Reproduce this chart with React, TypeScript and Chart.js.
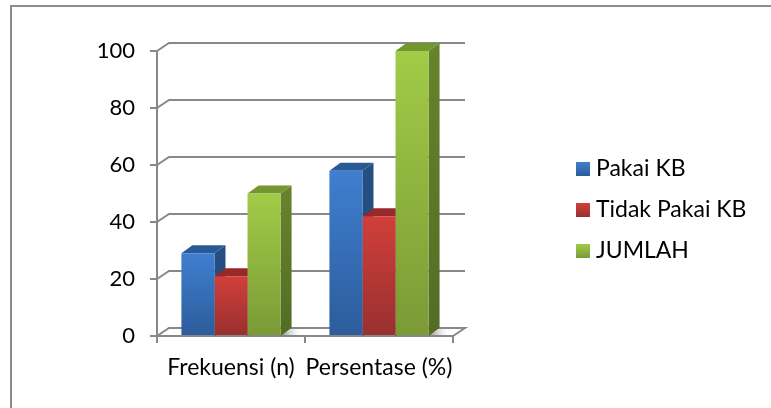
import React, { useEffect, useRef } from "react";
import { Chart, registerables } from "chart.js";

Chart.register(...registerables);

const categories = ["Frekuensi (n)", "Persentase (%)"];
const seriesNames = ["Pakai KB", "Tidak Pakai KB", "JUMLAH"];
const pakaiKb = [29, 58];
const tidakPakaiKb = [21, 42];
const jumlah = [50, 100];
const yTicks = [0, 20, 40, 60, 80, 100];

const FONT = "Lato";
const GRID = "#888888";
const GRID_WIDTH = 2;
const WALL_X = 12;
const DEPTH_X = 11;
const DEPTH_Y = 8;

const palette = [
  { top: "#3f7fd0", bottom: "#2c5c9b", roof: "#2a5a96", side: "#254e82", sideLow: "#234a7c" },
  { top: "#d13f3a", bottom: "#983030", roof: "#962a2a", side: "#7e2424", sideLow: "#7e2424" },
  { top: "#a2cb47", bottom: "#7a9a36", roof: "#74962f", side: "#66832c", sideLow: "#536c25" },
];

// Side and top faces of the columns, plus the wall and floor lines behind them.
const depthPlugin = {
  id: "depth",
  beforeDatasetsDraw(chart: any) {
    const { ctx, scales } = chart;
    const x = scales.x;
    const y = scales.y;
    const base = y.getPixelForValue(0);
    ctx.save();
    ctx.strokeStyle = GRID;
    ctx.lineWidth = GRID_WIDTH;
    for (const v of yTicks) {
      const py = y.getPixelForValue(v);
      ctx.beginPath();
      ctx.moveTo(x.left, py);
      ctx.lineTo(x.left + WALL_X, py - DEPTH_Y);
      ctx.lineTo(x.right + WALL_X, py - DEPTH_Y);
      if (v === 0) ctx.lineTo(x.right, py);
      ctx.stroke();
    }
    // Soft floor shadow to the right of the last column in each group
    const lastMeta = chart.getDatasetMeta(chart.data.datasets.length - 1);
    lastMeta.data.forEach((bar: any) => {
      const r = bar.x + bar.width / 2;
      const shade = ctx.createLinearGradient(r, 0, r + 22, 0);
      shade.addColorStop(0, "rgba(90,90,90,0.75)");
      shade.addColorStop(1, "rgba(255,255,255,0)");
      ctx.fillStyle = shade;
      ctx.beginPath();
      ctx.moveTo(r, base - 1);
      ctx.lineTo(r + DEPTH_X, base - DEPTH_Y + 1);
      ctx.lineTo(r + 26, base - DEPTH_Y + 1);
      ctx.lineTo(r + 18, base - 1);
      ctx.closePath();
      ctx.fill();
    });
    chart.data.datasets.forEach((_: any, di: number) => {
      const p = palette[di];
      chart.getDatasetMeta(di).data.forEach((bar: any) => {
        const l = bar.x - bar.width / 2;
        const r = bar.x + bar.width / 2;
        const t = bar.y;
        const side = ctx.createLinearGradient(0, t, 0, base);
        side.addColorStop(0, p.side);
        side.addColorStop(1, p.sideLow);
        ctx.fillStyle = side;
        ctx.beginPath();
        ctx.moveTo(r, t);
        ctx.lineTo(r + DEPTH_X, t - DEPTH_Y);
        ctx.lineTo(r + DEPTH_X, base - DEPTH_Y);
        ctx.lineTo(r, base);
        ctx.closePath();
        ctx.fill();
        ctx.fillStyle = p.roof;
        ctx.beginPath();
        ctx.moveTo(l, t);
        ctx.lineTo(l + DEPTH_X, t - DEPTH_Y);
        ctx.lineTo(r + DEPTH_X, t - DEPTH_Y);
        ctx.lineTo(r, t);
        ctx.closePath();
        ctx.fill();
      });
    });
    ctx.restore();
  },
};

// Legend column to the right of the plot, with gradient swatches.
const sideLegendPlugin = {
  id: "sideLegend",
  afterDraw(chart: any) {
    const { ctx } = chart;
    const boxX = 576;
    const textX = 596;
    const boxSize = 14;
    const firstRow = 169;
    const rowStep = 41;
    ctx.save();
    ctx.font = `23px ${FONT}`;
    ctx.textBaseline = "middle";
    ctx.textAlign = "left";
    chart.data.datasets.forEach((d: any, i: number) => {
      const cy = firstRow + i * rowStep;
      const g = ctx.createLinearGradient(0, cy - boxSize / 2, 0, cy + boxSize / 2);
      g.addColorStop(0, palette[i].top);
      g.addColorStop(1, palette[i].bottom);
      ctx.fillStyle = g;
      ctx.fillRect(boxX, cy - boxSize / 2, boxSize, boxSize);
      ctx.fillStyle = "#000";
      ctx.fillText(d.label, textX, cy);
    });
    ctx.restore();
  },
};

export default function App() {
  const ref = useRef<HTMLCanvasElement>(null);
  useEffect(() => {
    const frontFill = (i: number) => (c: any) => {
      const { chart, parsed } = c;
      const area = chart.chartArea;
      if (!area || !parsed) return palette[i].top;
      const y = chart.scales.y;
      const g = chart.ctx.createLinearGradient(0, y.getPixelForValue(parsed.y), 0, y.getPixelForValue(0));
      g.addColorStop(0, palette[i].top);
      g.addColorStop(1, palette[i].bottom);
      return g;
    };
    const values = [pakaiKb, tidakPakaiKb, jumlah];
    const chart = new Chart(ref.current!, {
      type: "bar",
      data: {
        labels: categories,
        datasets: seriesNames.map((label, i) => ({
          label,
          data: values[i],
          backgroundColor: frontFill(i),
          borderWidth: 0,
          barPercentage: 1,
          categoryPercentage: 0.67,
        })),
      },
      plugins: [depthPlugin, sideLegendPlugin],
      options: {
        animation: false,
        responsive: false,
        layout: { padding: { left: 0, top: 51, right: 318, bottom: 0 } },
        scales: {
          x: {
            afterFit(s: any) { s.height = 72; },
            grid: { drawOnChartArea: false, color: GRID, lineWidth: GRID_WIDTH, tickLength: 7 },
            border: { color: GRID, width: GRID_WIDTH },
            ticks: { color: "#000", autoSkip: false, font: { family: FONT, size: 23 }, padding: 11, maxRotation: 0 },
          },
          y: {
            min: 0,
            max: 100,
            afterFit(s: any) { s.width = 157; },
            grid: { drawOnChartArea: false, color: GRID, lineWidth: GRID_WIDTH, tickLength: 7 },
            border: { color: GRID, width: GRID_WIDTH },
            ticks: { color: "#000", stepSize: 20, font: { family: FONT, size: 22 }, padding: 15 },
          },
        },
        plugins: {
          tooltip: { enabled: false },
          legend: { display: false },
        },
      },
    } as any);
    return () => chart.destroy();
  }, []);
  return (
    <div style={{ position: "fixed", left: 0, top: 0, width: 771, height: 408, background: "#fff", overflow: "hidden" }}>
      <div
        style={{
          position: "absolute",
          left: 10,
          top: 5,
          width: 800,
          height: 440,
          boxSizing: "border-box",
          border: "2px solid #8c8c8c",
        }}
      />
      <canvas ref={ref} width={771} height={408} style={{ position: "absolute", left: 0, top: 0 }} />
    </div>
  );
}
